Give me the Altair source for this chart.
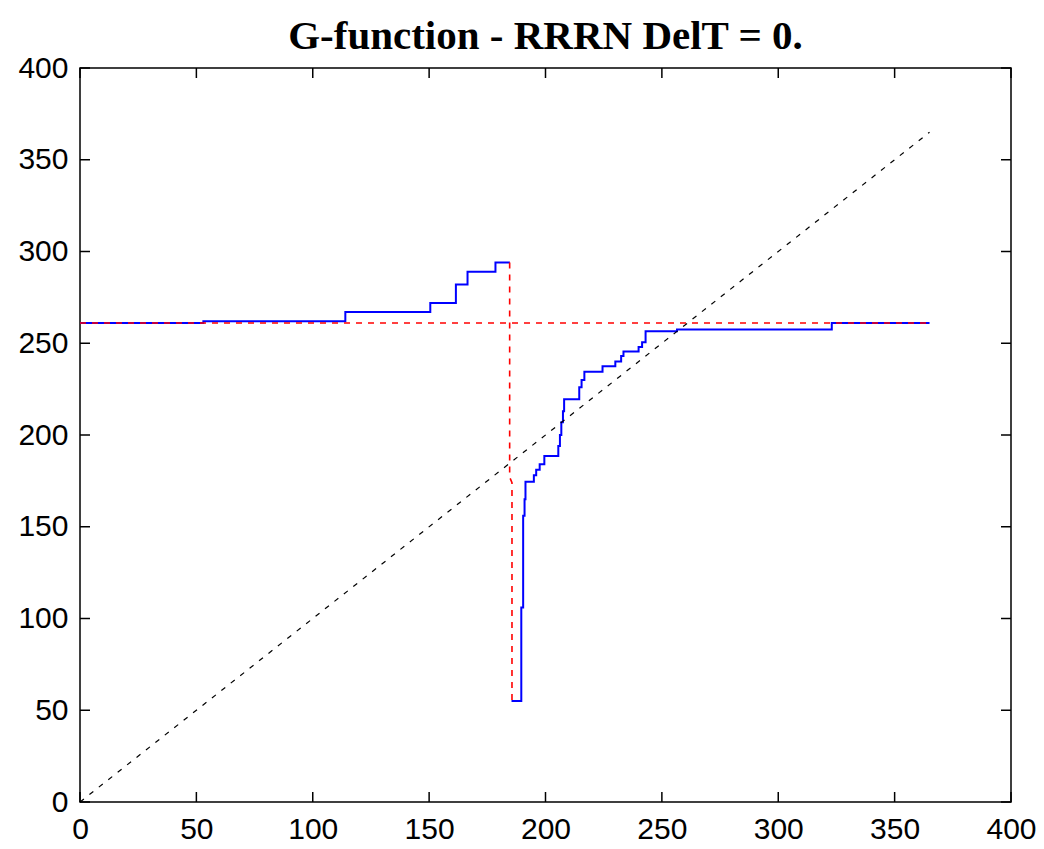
import altair as alt
import pandas as pd

W, H = 931, 734

title_text = "G-function - RRRN DelT = 0."
tick_values = [0, 50, 100, 150, 200, 250, 300, 350, 400]

# Blue G-function (step-after), part before the jump
blue1_x = [0, 53, 114, 150.5, 161.5, 166.5, 178.5, 184.7]
blue1_y = [261, 262, 267, 272, 282, 289, 294, 294]
# Blue G-function after the jump
blue2_x = [185.4, 189.6, 190.4, 191.0, 191.4, 195.0, 196.0, 197.5, 199.5, 205.5,
           206.2, 206.8, 207.5, 208.0, 214.5, 215.5, 216.7, 224.5, 230.0, 232.5,
           233.5, 240.0, 241.5, 243.0, 256.5, 323.0, 365.0]
blue2_y = [55, 106, 156, 165, 174.5, 178, 181, 184, 188.5, 194,
           200, 207, 213, 219.5, 226, 230, 234.5, 237.5, 240, 243,
           245.5, 248, 250.5, 256.5, 257.5, 261, 261]

# Red dashed reference lines
red_h_x = [0, 365]
red_h_y = [261, 261]
red_v_x = [184.6, 184.6, 185.6, 185.6]
red_v_y = [294, 177, 174, 55]

# Black dashed diagonal
diag_x = [0, 365]
diag_y = [0, 365]


def frame(xs, ys, seg):
    return pd.DataFrame({"x": xs, "y": ys, "seg": seg, "i": list(range(len(xs)))})


blue_df = pd.concat([frame(blue1_x, blue1_y, "a"), frame(blue2_x, blue2_y, "b")])
red_df = pd.concat([frame(red_h_x, red_h_y, "h"), frame(red_v_x, red_v_y, "v")])
diag_df = frame(diag_x, diag_y, "d")
ticks_df = pd.DataFrame({"t": tick_values})

xs = alt.Scale(domain=[0, 400], nice=False, zero=False)
ys = alt.Scale(domain=[0, 400], nice=False, zero=False)

lab = dict(labelFont="Liberation Sans", labelFontSize=30, labelColor="black",
           ticks=False, domain=False, grid=False, title=None, format="d",
           values=tick_values, labelPadding=12, labelFlush=False)
x_axis = alt.Axis(**lab)
y_axis = alt.Axis(**lab)

X = lambda f: alt.X(f, scale=xs, axis=x_axis)
Y = lambda f: alt.Y(f, scale=ys, axis=y_axis)

blue = alt.Chart(blue_df).mark_line(color="#0000FF", strokeWidth=2, interpolate="step-after").encode(
    x=X("x:Q"), y=Y("y:Q"), detail="seg:N", order="i:Q",
)

red = alt.Chart(red_df).mark_line(color="#FF0000", strokeWidth=1.6, strokeDash=[6, 6]).encode(
    x=X("x:Q"), y=Y("y:Q"), detail="seg:N", order="i:Q",
)

diag = alt.Chart(diag_df).mark_line(color="black", strokeWidth=1.2, strokeDash=[5, 7]).encode(
    x=X("x:Q"), y=Y("y:Q"), order="i:Q",
)

tick_style = dict(color="black", strokeWidth=1.5)
bottom_ticks = alt.Chart(ticks_df).mark_rule(**tick_style).encode(
    x=X("t:Q"), y=alt.value(H), y2=alt.value(H - 10))
top_ticks = alt.Chart(ticks_df).mark_rule(**tick_style).encode(
    x=X("t:Q"), y=alt.value(0), y2=alt.value(10))
left_ticks = alt.Chart(ticks_df).mark_rule(**tick_style).encode(
    y=Y("t:Q"), x=alt.value(0), x2=alt.value(10))
right_ticks = alt.Chart(ticks_df).mark_rule(**tick_style).encode(
    y=Y("t:Q"), x=alt.value(W), x2=alt.value(W - 10))

chart = alt.layer(
    bottom_ticks, top_ticks, left_ticks, right_ticks, blue, red, diag
).properties(
    width=W,
    height=H,
    autosize="none",
    padding={"left": 80, "top": 68, "right": 33, "bottom": 47},
    background="white",
    title=alt.TitleParams(
        text=title_text, font="Liberation Serif", fontSize=41, fontWeight="bold",
        color="black", anchor="middle", offset=13, dy=18,
    ),
).configure_view(stroke="black", strokeWidth=1.5)

chart.save("out.html", embed_options={"renderer": "svg", "actions": False})
